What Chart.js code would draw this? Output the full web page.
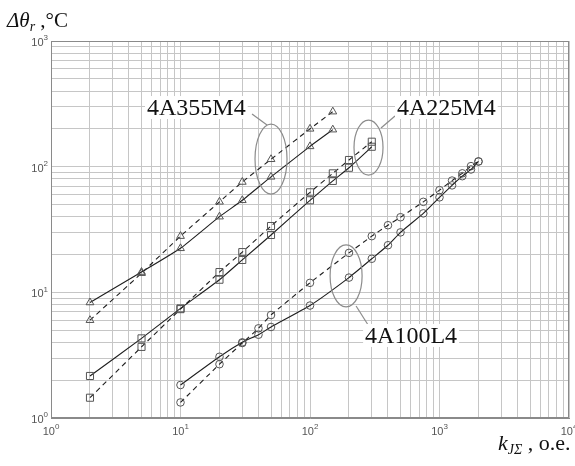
<!DOCTYPE html>
<html>
<head>
<meta charset="utf-8">
<script src="https://cdn.jsdelivr.net/npm/chart.js@4.4.1/dist/chart.umd.min.js"></script>
<style>
  html, body { margin: 0; padding: 0; background: #fff; }
  .chart-container { width: 575px; height: 466px; }
</style>
</head>
<body>
<div class="chart-container"><canvas id="chart" width="575" height="466"></canvas></div>
<script>
// 4A355M4 (triangles)
const x355 = [2, 5, 10, 20, 30, 50, 100, 150];
const solid355 = [8.3, 14.5, 22.4, 40, 54, 83, 145, 197];
const dashed355 = [6.0, 14.2, 28, 52.5, 75.5, 114.5, 200, 274];

// 4A225M4 (squares)
const x225 = [2, 5, 10, 20, 30, 50, 100, 150, 200, 300];
const solid225 = [2.16, 4.3, 7.45, 12.6, 18.1, 28.6, 54, 77, 98, 144];
const dashed225 = [1.45, 3.68, 7.35, 14.5, 20.9, 33.7, 62.5, 88.5, 113, 158];

// 4A100L4 (circles)
const x100 = [10, 20, 30, 40, 50, 100, 200, 300, 400, 500, 750, 1000, 1250, 1500, 1750, 2000];
const solid100 = [1.83, 3.07, 4.0, 4.6, 5.3, 7.85, 13.1, 18.5, 23.7, 30, 42.5, 57, 71, 84, 95, 110];
const dashed100 = [1.33, 2.68, 3.95, 5.17, 6.6, 11.9, 20.6, 28, 34.2, 39.6, 52.5, 65, 77.5, 88.5, 101, 110];

// tick labels: 10^n
const xDecades = [1, 10, 100, 1000, 10000];
const xTickExp = ['0', '1', '2', '3', '4'];
const yDecades = [1, 10, 100, 1000];
const yTickExp = ['0', '1', '2', '3'];

// gridlines 1..9 in each decade
function logGrid(decades) {
  const out = [];
  for (let i = 0; i < decades.length - 1; i++) {
    for (let m = 1; m < 10; m++) out.push(m * decades[i]);
  }
  out.push(decades[decades.length - 1]);
  return out;
}
const xGrid = logGrid(xDecades);
const yGrid = logGrid(yDecades);

function pts(xs, ys) {
  return xs.map((x, i) => ({ x, y: ys[i] }));
}

function series(xs, ys, marker, radius, dashed) {
  return {
    data: pts(xs, ys),
    borderColor: '#1e1e1e',
    borderWidth: 1.1,
    borderDash: dashed ? [5, 4] : [],
    pointStyle: marker,
    pointRadius: radius,
    pointBorderColor: '#555',
    pointBackgroundColor: 'rgba(255,255,255,0)',
    pointBorderWidth: 1,
    tension: 0.15,
    fill: false
  };
}

// callouts: ellipse centre in data values, everything else offset in px from it
const callouts = [
  { text: '4A355M4', cx: 50, cy: 115, rx: 16, ry: 35, tdx: -124, tdy: -44, l1: [-19, -45], l2: [-4, -34] },
  { text: '4A225M4', cx: 283, cy: 142, rx: 14.5, ry: 27.5, tdx: 28.5, tdy: -32.5, l1: [26.5, -31.5], l2: [12.5, -19.5] },
  { text: '4A100L4', cx: 190, cy: 13.5, rx: 16, ry: 31, tdx: 19, tdy: 67, l1: [10, 30], l2: [22, 49] }
];

function drawPow(ctx, x, y, exp, align) {
  ctx.font = '11px "Liberation Sans", Arial, sans-serif';
  const w1 = ctx.measureText('10').width;
  ctx.font = '8px "Liberation Sans", Arial, sans-serif';
  const w2 = ctx.measureText(exp).width;
  const start = align === 'right' ? x - w1 - w2 : x - (w1 + w2) / 2;
  ctx.textBaseline = 'middle';
  ctx.textAlign = 'left';
  ctx.font = '11px "Liberation Sans", Arial, sans-serif';
  ctx.fillText('10', start, y);
  ctx.font = '8px "Liberation Sans", Arial, sans-serif';
  ctx.fillText(exp, start + w1, y - 5);
}

const decorations = {
  id: 'decorations',
  beforeDatasetsDraw(chart) {
    const { ctx, chartArea: a } = chart;
    ctx.save();
    ctx.strokeStyle = '#8a8a8a';
    ctx.lineWidth = 1;
    ctx.strokeRect(a.left + 0.5, a.top + 0.5, a.right - a.left - 1, a.bottom - a.top - 1);
    ctx.restore();
  },
  afterDraw(chart) {
    const { ctx } = chart;
    const xs = chart.scales.x, ys = chart.scales.y;
    ctx.save();

    // tick labels
    ctx.fillStyle = '#555';
    xDecades.forEach((v, i) => drawPow(ctx, xs.getPixelForValue(v), 432, xTickExp[i], 'center'));
    yDecades.forEach((v, i) => drawPow(ctx, 48, ys.getPixelForValue(v) + 2, yTickExp[i], 'right'));

    // axis titles
    ctx.fillStyle = '#111';
    ctx.textBaseline = 'alphabetic';
    ctx.textAlign = 'left';
    let cx = 7;
    ctx.font = 'italic 21px "Liberation Serif", "Times New Roman", serif';
    ctx.fillText('\u0394\u03b8', cx, 27);
    cx += ctx.measureText('\u0394\u03b8').width;
    ctx.font = 'italic 14px "Liberation Serif", "Times New Roman", serif';
    ctx.fillText('r', cx, 31);
    cx += ctx.measureText('r').width;
    ctx.font = '21px "Liberation Serif", "Times New Roman", serif';
    ctx.fillText(' ,\u00b0C', cx, 27);

    cx = 498;
    ctx.font = 'italic 22px "Liberation Serif", "Times New Roman", serif';
    ctx.fillText('k', cx, 450);
    cx += ctx.measureText('k').width;
    ctx.font = 'italic 14px "Liberation Serif", "Times New Roman", serif';
    ctx.fillText('J\u03a3', cx, 454);
    cx += ctx.measureText('J\u03a3').width;
    ctx.font = '22px "Liberation Serif", "Times New Roman", serif';
    ctx.fillText(' , o.e.', cx, 450);

    // callouts
    callouts.forEach(c => {
      const px = xs.getPixelForValue(c.cx), py = ys.getPixelForValue(c.cy);
      ctx.strokeStyle = '#8c8c8c';
      ctx.lineWidth = 1.2;
      ctx.beginPath();
      ctx.ellipse(px, py, c.rx, c.ry, 0, 0, Math.PI * 2);
      ctx.stroke();
      ctx.beginPath();
      ctx.moveTo(px + c.l1[0], py + c.l1[1]);
      ctx.lineTo(px + c.l2[0], py + c.l2[1]);
      ctx.stroke();

      ctx.font = '24px "Liberation Serif", "Times New Roman", serif';
      const w = ctx.measureText(c.text).width;
      const tx = px + c.tdx, ty = py + c.tdy;
      ctx.fillStyle = '#fff';
      ctx.fillRect(tx - 2, ty - 19, w + 4, 23);
      ctx.fillStyle = '#111';
      ctx.fillText(c.text, tx, ty);
    });
    ctx.restore();
  }
};

const gridOpts = { color: '#c6c6c6', lineWidth: 1, drawTicks: false };

new Chart(document.getElementById('chart').getContext('2d'), {
  type: 'line',
  data: {
    datasets: [
      series(x355, solid355, 'triangle', 4.5, false),
      series(x355, dashed355, 'triangle', 4.5, true),
      series(x225, solid225, 'rect', 5, false),
      series(x225, dashed225, 'rect', 5, true),
      series(x100, solid100, 'circle', 3.8, false),
      series(x100, dashed100, 'circle', 3.8, true)
    ]
  },
  options: {
    responsive: false,
    animation: false,
    devicePixelRatio: 1,
    layout: { padding: { top: 41, right: 6, left: 0, bottom: 0 } },
    plugins: { legend: { display: false }, tooltip: { enabled: false } },
    scales: {
      x: {
        type: 'logarithmic',
        min: 1,
        max: 10000,
        grid: gridOpts,
        border: { display: true, color: '#8a8a8a' },
        ticks: { display: false },
        afterBuildTicks: s => { s.ticks = xGrid.map(v => ({ value: v })); },
        afterFit: s => { s.height = 48; }
      },
      y: {
        type: 'logarithmic',
        min: 1,
        max: 1000,
        grid: gridOpts,
        border: { display: true, color: '#8a8a8a' },
        ticks: { display: false },
        afterBuildTicks: s => { s.ticks = yGrid.map(v => ({ value: v })); },
        afterFit: s => { s.width = 51; }
      }
    }
  },
  plugins: [decorations]
});
</script>
</body>
</html>
